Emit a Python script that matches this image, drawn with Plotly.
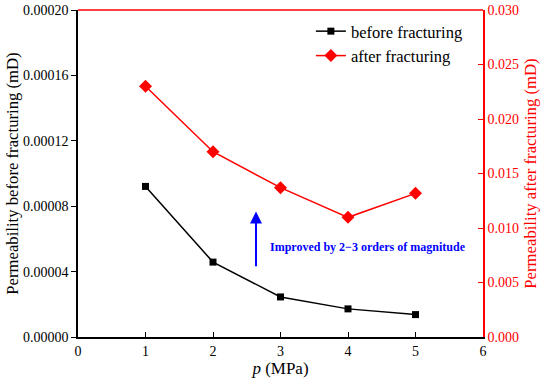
import plotly.graph_objects as go

pressure = [1, 2, 3, 4, 5]
perm_before = [0.0000921, 0.0000458, 0.0000245, 0.0000172, 0.0000137]
perm_after = [0.0230, 0.0170, 0.01370, 0.01098, 0.01318]

left_ticks = [0, 0.00004, 0.00008, 0.00012, 0.00016, 0.00020]
right_ticks = [0, 0.005, 0.010, 0.015, 0.020, 0.025, 0.030]
x_ticks = [0, 1, 2, 3, 4, 5, 6]

FONT = "Liberation Serif, Times New Roman, serif"

fig = go.Figure()
fig.add_trace(go.Scatter(
    x=pressure, y=perm_before, name="before fracturing", mode="lines+markers",
    line=dict(color="black", width=1.5),
    marker=dict(symbol="square", size=7, color="black"),
    yaxis="y"))
fig.add_trace(go.Scatter(
    x=pressure, y=perm_after, name="after fracturing", mode="lines+markers",
    line=dict(color="red", width=1.5),
    marker=dict(symbol="diamond", size=10, color="red"),
    yaxis="y2"))

fig.update_layout(
    width=550, height=384,
    margin=dict(l=78, r=67, t=10, b=47),
    plot_bgcolor="white", paper_bgcolor="white",
    font=dict(family=FONT, size=14, color="black"),
    showlegend=True,
    legend=dict(x=0.575, y=0.988, xanchor="left", yanchor="top",
                bgcolor="rgba(0,0,0,0)", font=dict(size=16.5, family=FONT),
                tracegroupgap=0),
    xaxis=dict(range=[0, 6], tickvals=x_ticks, ticktext=[str(v) for v in x_ticks],
               ticks="inside", ticklen=5, tickcolor="black",
               showline=True, linecolor="black", linewidth=1.5,
               showgrid=False, zeroline=False, automargin=False,
               title=dict(text="<i>p</i> (MPa)", font=dict(size=17), standoff=4),
               tickfont=dict(size=14)),
    yaxis=dict(range=[0, 0.0002], tickvals=left_ticks,
               ticktext=[f"{v:.5f}" for v in left_ticks],
               ticks="outside", ticklen=5, tickcolor="black",
               showline=True, linecolor="black", linewidth=1.5,
               showgrid=False, zeroline=False, automargin=False,
               title=dict(text="Permeability before fracturing (mD)", font=dict(size=16.7), standoff=0),
               tickfont=dict(size=14)),
    yaxis2=dict(range=[0, 0.03], tickvals=right_ticks,
                ticktext=[f"{v:.3f}" for v in right_ticks],
                overlaying="y", side="right",
                ticks="inside", ticklen=5, tickcolor="red",
                showline=True, linecolor="red", linewidth=1.5,
                showgrid=False, zeroline=False, automargin=False,
                tickfont=dict(size=14, color="red"),
                title=dict(text="Permeability after fracturing (mD)", font=dict(size=16.7, color="red"), standoff=6)),
)

# top border in red
fig.add_shape(type="line", xref="paper", yref="paper", x0=0, x1=1, y0=1, y1=1,
              line=dict(color="red", width=1.5))

# annotation arrow (head at top)
fig.add_annotation(x=2.637, y=0.0000768, ax=2.637, ay=0.0000423,
                   xref="x", yref="y", axref="x", ayref="y",
                   showarrow=True, arrowhead=2, arrowsize=1.2, arrowwidth=2,
                   arrowcolor="blue", text="")
fig.add_annotation(x=2.81, y=0.0000551, xref="x", yref="y", xanchor="left",
                   showarrow=False,
                   text="<b>Improved by 2\u22123 orders of magnitude</b>",
                   font=dict(size=12, color="blue", family=FONT))

fig.write_html("out.html", config={"displayModeBar": False},
               post_script="document.body.style.margin='0';")
